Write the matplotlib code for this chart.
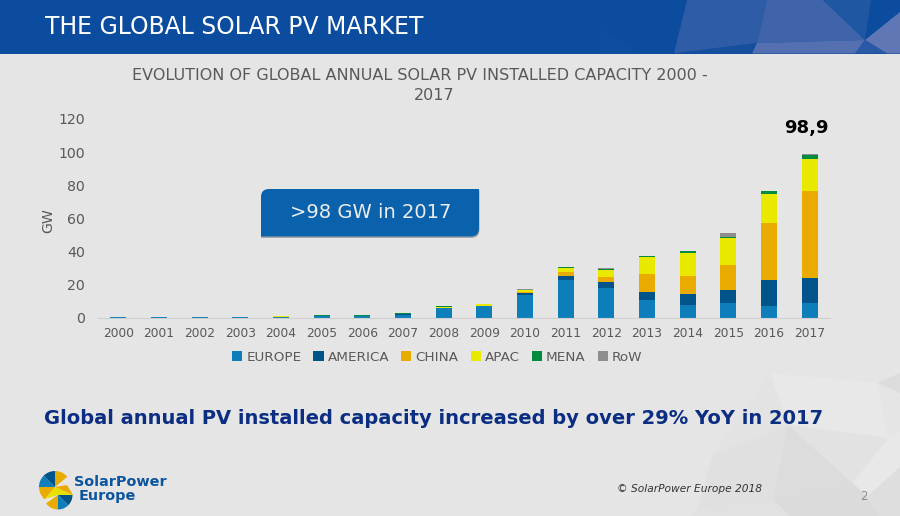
import matplotlib
matplotlib.use('Agg')
import matplotlib.pyplot as plt
from matplotlib.patches import Polygon, Wedge, Rectangle, PathPatch
from matplotlib.path import Path

years = ['2000','2001','2002','2003','2004','2005','2006','2007','2008','2009',
         '2010','2011','2012','2013','2014','2015','2016','2017']
europe  = [0.02,0.02,0.02,0.05,0.5,0.8,0.8,1.6,5.6,6.9,13.5,22.4,17.7,10.7,7.3,8.7,6.9,8.5]
america = [0.0,0.0,0.0,0.02,0.1,0.1,0.2,0.4,0.3,0.2,1.2,2.4,3.5,4.8,7.2,8.0,15.9,15.5]
china   = [0.0,0.0,0.0,0.0,0.0,0.0,0.0,0.0,0.0,0.1,0.5,2.6,3.2,10.9,10.7,15.1,34.4,52.4]
apac    = [0.1,0.1,0.2,0.4,0.2,0.2,0.2,0.4,0.7,0.8,1.5,2.6,4.6,9.9,13.5,16.0,17.2,19.7]
mena    = [0.0,0.0,0.0,0.0,0.2,0.2,0.2,0.1,0.1,0.1,0.1,0.4,0.6,0.7,1.4,0.8,1.8,2.4]
row     = [0.0,0.0,0.0,0.0,0.0,0.0,0.0,0.0,0.0,0.0,0.2,0.1,0.1,0.1,0.1,2.4,0.1,0.4]
series = [('EUROPE',europe,'#0E7EBB'),('AMERICA',america,'#01548A'),('CHINA',china,'#EAAB00'),
          ('APAC',apac,'#E9E900'),('MENA',mena,'#008C3F'),('RoW',row,'#8E8E8E')]
W, H = 900, 516
plt.rcParams['font.family'] = 'DejaVu Sans'

fig = plt.figure(figsize=(9, 5.16), dpi=100, facecolor='#E5E5E5')

# background layer in pixel coords
bg = fig.add_axes([0, 0, 1, 1])
bg.set_xlim(0, W)
bg.set_ylim(H, 0)
bg.axis('off')

# faint facets bottom right
for pts, c in [([(770,373),(878,383),(888,438),(788,425)],'#E8E8E8'),
               ([(770,373),(788,425),(713,455)],'#E3E3E3'),
               ([(713,455),(788,425),(773,500),(697,510)],'#E0E0E0'),
               ([(788,425),(853,483),(773,500)],'#DCDCDC'),
               ([(788,425),(888,438),(853,483)],'#E2E2E2'),
               ([(697,510),(773,500),(790,516),(690,516)],'#E1E1E1'),
               ([(773,500),(853,483),(867,497),(880,516),(790,516)],'#DBDBDB'),
               ([(878,383),(900,373),(900,393)],'#DCDCDC'),
               ([(888,438),(900,432),(900,467),(867,497),(853,483)],'#E8E8E8'),
               ([(867,497),(900,467),(900,516),(880,516)],'#DEDEDE')]:
    bg.add_patch(Polygon(pts, fc=c, ec='none'))

# header band
bg.add_patch(Rectangle((0, 0), W, 53.5, fc='#0B4C9E', ec='none'))
for pts, c in [([(687,0),(767,0),(757,43),(674,53.5)],'#2E5CA6'),
               ([(767,0),(823,0),(865,40),(757,43)],'#3F64AA'),
               ([(823,0),(871,0),(865,40)],'#1F57A3'),
               ([(674,53.5),(757,43),(752,53.5)],'#174F9F'),
               ([(757,43),(865,40),(855,53.5),(752,53.5)],'#5470B0'),
               ([(865,40),(900,12),(900,53.5),(887,53.5)],'#5F77B5'),
               ([(865,40),(887,53.5),(855,53.5)],'#2A5AA5'),
               ([(600,28),(640,53.5),(600,53.5)],'#0E4EA0')]:
    bg.add_patch(Polygon(pts, fc=c, ec='none'))
bg.text(45, 27.5, 'THE GLOBAL SOLAR PV MARKET', color='white', fontsize=16.95, va='center', ha='left')

# chart
ax = fig.add_axes([98/W, 1-317.5/H, (830-98)/W, (317.5-119)/H])
ax.patch.set_alpha(0)
pos = list(range(len(years)))
bottom = [0.0]*len(years)
for name, vals, col in series:
    ax.bar(pos, vals, 0.4, bottom=bottom, color=col, label=name)
    bottom = [b+v for b, v in zip(bottom, vals)]
ax.set_xlim(-0.5, 17.5)
ax.set_ylim(0, 120)
ax.set_yticks([0,20,40,60,80,100,120])
ax.set_xticks(pos)
ax.set_xticklabels(years)
ax.tick_params(axis='both', length=0, colors='#595959')
ax.tick_params(axis='x', labelsize=8.8, pad=6.5)
ax.tick_params(axis='y', labelsize=10.2, pad=9.5)
for s in ['top','right','left']:
    ax.spines[s].set_visible(False)
ax.spines['bottom'].set_color('#CFCFCF')
ax.set_ylabel('GW', fontsize=10.2, color='#595959')
ax.yaxis.set_label_coords(-43/732, 0.49)
bg.text(806.5, 128, '98,9', fontsize=13, fontweight='bold', color='black', ha='center', va='center')
ax.legend(loc='upper center', bbox_to_anchor=(0.4635, -0.135), ncol=6, frameon=False,
          fontsize=9.7, labelcolor='#595959', handlelength=0.75, handleheight=0.75,
          handletextpad=0.3, columnspacing=0.9, borderpad=0)

# chart title
bg.text(420, 76, 'EVOLUTION OF GLOBAL ANNUAL SOLAR PV INSTALLED CAPACITY 2000 -',
        color='#595959', fontsize=11.5, ha='center', va='center')
bg.text(434, 96, '2017', color='#595959', fontsize=11.5, ha='center', va='center')

# callout, rounded top left and bottom right
def callout(x0, y0, x1, y1, r, col):
    verts = [(x0+r,y0),(x1,y0),(x1,y1-r),(x1,y1),(x1-r,y1),(x0,y1),(x0,y0+r),(x0,y0),(x0+r,y0)]
    codes = [Path.MOVETO,Path.LINETO,Path.LINETO,Path.CURVE3,Path.CURVE3,Path.LINETO,Path.LINETO,Path.CURVE3,Path.CURVE3]
    bg.add_patch(PathPatch(Path(verts, codes), fc=col, ec='none'))
callout(261, 190.5, 479.5, 238, 8, '#A8A8A8')
callout(261, 189, 479, 236.5, 8, '#0A62AD')
bg.text(371, 213, '>98 GW in 2017', color='#ECECEC', fontsize=14, ha='center', va='center')

# headline and footer
bg.text(433.5, 418, 'Global annual PV installed capacity increased by over 29% YoY in 2017',
        color='#0B2E83', fontsize=14, fontweight='bold', ha='center', va='center')
bg.text(689.5, 489, '© SolarPower Europe 2018', color='#333333', fontsize=7.7, style='italic', ha='center', va='center')
bg.text(864, 496, '2', color='#8C8C8C', fontsize=8.5, ha='center', va='center')

# logo, y axis is inverted so angles run clockwise on screen
top_c, bot_c = (55,487), (58,495)
for cen, r, t1, t2, c in [(top_c,16,180,225,'#0E7EBB'),(top_c,16,225,270,'#01548A'),
                          (top_c,16,270,320,'#EAAB00'),(top_c,16,130,180,'#EAAB00'),
                          (bot_c,14.5,0,45,'#01548A'),(bot_c,14.5,45,90,'#0E7EBB'),
                          (bot_c,14.5,90,145,'#EAAB00')]:
    bg.add_patch(Wedge(cen, r, t1, t2, fc=c, ec='none'))
bg.add_patch(Polygon([(45,499),(55,487),(73,495),(58,495)], fc='#E9E000', ec='none'))
bg.add_patch(Polygon([(55,487),(67,485),(73,495)], fc='#EAAB00', ec='none'))
bg.text(74, 482.5, 'SolarPower', color='#0B55A0', fontsize=10.4, fontweight='bold', ha='left', va='center')
bg.text(79, 496, 'Europe', color='#0B55A0', fontsize=10.4, fontweight='bold', ha='left', va='center')

fig.savefig('out.png', dpi=100, facecolor=fig.get_facecolor())
